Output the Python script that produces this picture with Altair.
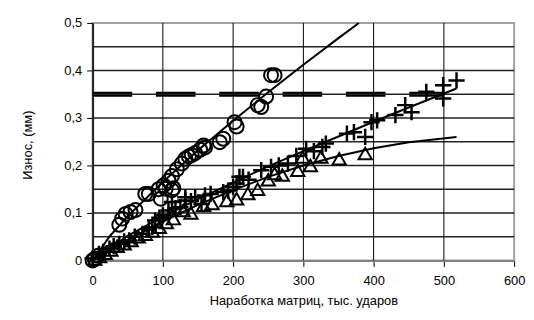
import altair as alt
import pandas as pd

# ---- data ----
circle_x = [0, 3, 8, 38, 42, 47, 54, 61, 75, 80, 94, 97, 101, 104, 108, 113, 113, 115, 120, 127,
            132, 137, 141, 146, 153, 158, 160, 181, 186, 202, 205, 235, 240, 247, 254, 259]
circle_y = [0, 0.003, 0.01, 0.075, 0.088, 0.098, 0.102, 0.106, 0.14, 0.14, 0.15, 0.13, 0.158, 0.151,
            0.168, 0.148, 0.178, 0.152, 0.192, 0.204, 0.214, 0.219, 0.222, 0.226, 0.233, 0.242, 0.238,
            0.249, 0.256, 0.291, 0.282, 0.327, 0.323, 0.345, 0.39, 0.39]

cross_x = [0, 9, 15, 24, 30, 38, 45, 52, 60, 71, 80, 85, 89, 95, 100, 108, 113, 118, 125, 132, 132,
           140, 146, 155, 160, 168, 186, 193, 200, 205, 209, 214, 222, 240, 254, 265, 278, 290, 304,
           315, 327, 332, 362, 372, 388, 397, 405, 431, 445, 454, 475, 499, 499, 518]
cross_y = [0.004, 0.014, 0.018, 0.025, 0.03, 0.035, 0.04, 0.042, 0.05, 0.056, 0.065, 0.07, 0.084,
           0.09, 0.095, 0.105, 0.123, 0.11, 0.112, 0.126, 0.133, 0.125, 0.133, 0.119, 0.137, 0.14,
           0.144, 0.147, 0.155, 0.162, 0.176, 0.176, 0.17, 0.19, 0.197, 0.2, 0.204, 0.22, 0.235,
           0.23, 0.239, 0.246, 0.267, 0.27, 0.26, 0.291, 0.295, 0.306, 0.327, 0.312, 0.355, 0.341,
           0.369, 0.379]

tri_x = [3, 10, 18, 26, 35, 45, 55, 65, 75, 85, 95, 105, 115, 129, 140, 158, 170, 191, 205, 221,
         235, 250, 259, 270, 292, 299, 310, 325, 351, 388]
tri_y = [0.003, 0.008, 0.015, 0.022, 0.03, 0.035, 0.042, 0.05, 0.055, 0.062, 0.07, 0.08, 0.088,
         0.105, 0.1, 0.116, 0.12, 0.126, 0.13, 0.141, 0.15, 0.17, 0.183, 0.18, 0.19, 0.218, 0.2,
         0.218, 0.214, 0.225]

# trend lines
cfit_x = [0, 25, 50, 100, 150, 200, 250, 300, 350, 379]
cfit_y = [0, 0.052, 0.093, 0.165, 0.232, 0.294, 0.354, 0.412, 0.468, 0.5]
xfit_x = [0, 50, 100, 150, 200, 250, 300, 350, 400, 450, 518]
xfit_y = [0, 0.052, 0.092, 0.129, 0.164, 0.198, 0.230, 0.261, 0.292, 0.322, 0.362]
tfit_x = [0, 50, 100, 150, 200, 250, 300, 350, 400, 450, 518]
tfit_y = [0, 0.043, 0.082, 0.117, 0.148, 0.176, 0.200, 0.220, 0.236, 0.249, 0.260]

limit_x = [0, 500]
limit_y = [0.35, 0.35]

x_ticks = [0, 100, 200, 300, 400, 500, 600]
y_ticks = [0, 0.05, 0.1, 0.15, 0.2, 0.25, 0.3, 0.35, 0.4, 0.45, 0.5]

FONT = "Liberation Sans"

xscale = alt.Scale(domain=[0, 600], nice=False)
yscale = alt.Scale(domain=[0, 0.5], nice=False)

xaxis = alt.Axis(values=x_ticks, title="Наработка матриц, тыс. ударов",
                 labelFont=FONT, labelFontSize=13, labelColor="black", labelPadding=8,
                 labelFlush=False, labelOverlap=False,
                 titleFont=FONT, titleFontSize=13, titleFontWeight="normal", titleColor="black",
                 titleY=41, titleBaseline="middle",
                 grid=False,
                 domainColor="#808080", domainWidth=2,
                 tickColor="black", tickSize=6, tickWidth=1)
yaxis = alt.Axis(values=y_ticks, title="Износ, (мм)",
                 labelExpr="replace(format(datum.value, '.2~f'), '.', ',')",
                 labelFont=FONT, labelFontSize=13, labelColor="black", labelPadding=5,
                 labelFlush=False, labelOverlap=False,
                 titleFont=FONT, titleFontSize=13, titleFontWeight="normal", titleColor="black",
                 titleX=-66, titleY=123, titleAngle=270, titleAlign="center", titleBaseline="middle",
                 grid=False,
                 domainColor="#222222", domainWidth=2,
                 tickColor="black", tickSize=6, tickWidth=1)

X = lambda f="x": alt.X(f"{f}:Q", scale=xscale, axis=xaxis)
Y = lambda f="y": alt.Y(f"{f}:Q", scale=yscale, axis=yaxis)

def df(xs, ys):
    return pd.DataFrame({"x": xs, "y": ys})

inner_x = x_ticks[1:-1]
inner_y = y_ticks[1:-1]

# horizontal grid: its own layer, no axis settings, plain rules across the full width
hgrid = alt.Chart(pd.DataFrame({"v": inner_y})).mark_rule(
    color="#222222", strokeWidth=1.5
).encode(y=alt.Y("v:Q", scale=yscale))

# vertical grid
vgrid = alt.Chart(pd.DataFrame({"u": inner_x})).mark_rule(
    color="#000000", strokeWidth=1
).encode(x=alt.X("u:Q", scale=xscale))

limit = alt.Chart(df(limit_x, limit_y)).mark_line(
    color="black", strokeWidth=5, strokeDash=[40, 24], strokeCap="butt"
).encode(x=X(), y=Y())

circles = alt.Chart(df(circle_x, circle_y)).mark_point(
    shape="circle", filled=False, size=200, strokeWidth=2, color="black", opacity=1
).encode(x=X(), y=Y())

crosses = alt.Chart(df(cross_x, cross_y)).mark_point(
    shape="M-1,0L1,0M0,-1L0,1", filled=False, size=270, strokeWidth=2.5, color="black", opacity=1
).encode(x=X(), y=Y())

tris = alt.Chart(df(tri_x, tri_y)).mark_point(
    shape="triangle-up", filled=False, size=180, strokeWidth=2, color="black", opacity=1
).encode(x=X(), y=Y())

def fit(xs, ys):
    return alt.Chart(df(xs, ys)).mark_line(color="black", strokeWidth=2).encode(x=X(), y=Y())

chart = alt.layer(
    limit, hgrid, vgrid, tris, crosses, circles,
    fit(cfit_x, cfit_y), fit(xfit_x, xfit_y), fit(tfit_x, tfit_y)
).properties(
    width=426, height=240,
    padding={"left": 85.5, "top": 13.5, "right": 12, "bottom": 50},
    autosize=alt.AutoSizeParams(type="none"),
    background="white"
).configure_view(
    stroke="#a0a0a0", strokeWidth=2
)

chart.save("out.html", embed_options={"renderer": "svg", "actions": False})
